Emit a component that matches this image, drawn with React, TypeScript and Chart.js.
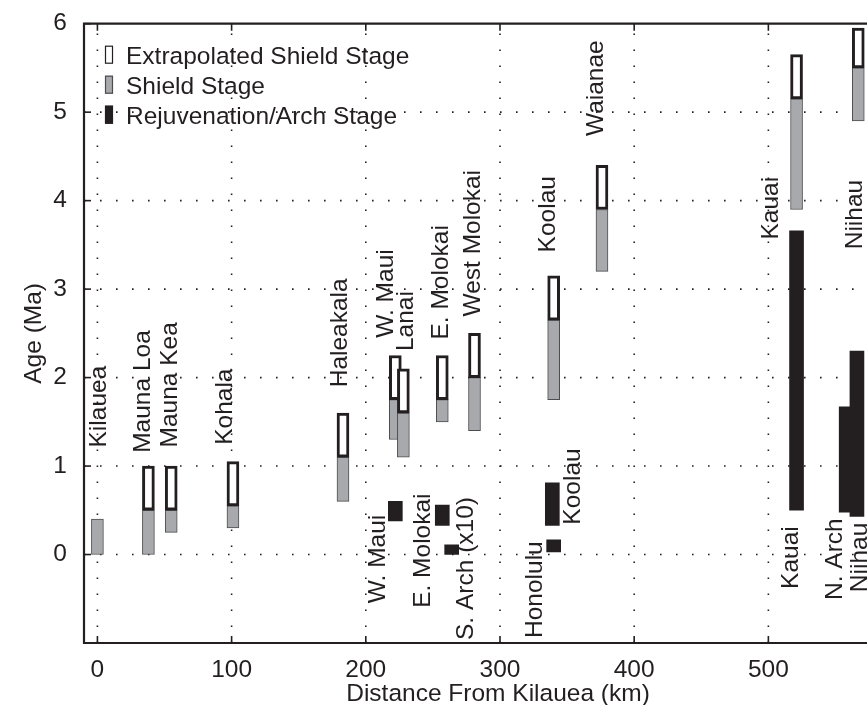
import React, { useEffect, useRef } from 'react';
import { Chart, registerables } from 'chart.js';

Chart.register(...registerables);

// ---------- data (km from Kilauea, ages in Ma) ----------
const shieldNames = ['Kilauea', 'Mauna Loa', 'Mauna Kea', 'Kohala', 'Haleakala', 'W. Maui', 'Lanai', 'E. Molokai', 'West Molokai', 'Koolau', 'Waianae', 'Kauai', 'Niihau'];
const shieldDistanceKm = [0, 38, 55, 101, 183, 222, 228, 257, 281, 340, 376, 521, 567];
const shieldStartMa = [0, 0, 0.25, 0.3, 0.6, 1.3, 1.1, 1.5, 1.4, 1.75, 3.2, 3.9, 4.9];
const shieldEndMa = [0.4, 0.5, 0.5, 0.55, 1.1, 1.75, 1.6, 1.75, 2.0, 2.65, 3.9, 5.15, 5.5];
const extrapolatedEndMa: (number | null)[] = [null, 1.0, 1.0, 1.05, 1.6, 2.25, 2.1, 2.25, 2.5, 3.15, 4.4, 5.65, 5.95];

const rejuvNames = ['W. Maui', 'E. Molokai', 'S. Arch (x10)', 'Koolau', 'Honolulu', 'Kauai', 'N. Arch', 'Niihau'];
const rejuvDistanceKm = [222, 257, 264, 339, 340, 521, 558, 566];
const rejuvStartMa = [0.38, 0.33, 0, 0.33, 0.03, 0.5, 0.48, 0.43];
const rejuvEndMa = [0.6, 0.56, 0.11, 0.81, 0.165, 3.66, 1.67, 2.3];

const xTickValues = [0, 100, 200, 300, 400, 500];
const yTickValues = [0, 1, 2, 3, 4, 5, 6];

// annotation labels: text, baseline distance (km), anchor age (Ma), side
const labelTexts = ['Kilauea', 'Mauna Loa', 'Mauna Kea', 'Kohala', 'Haleakala', 'W. Maui', 'Lanai', 'E. Molokai', 'West Molokai', 'Koolau', 'Waianae', 'Kauai', 'Niihau',
  'W. Maui', 'E. Molokai', 'S. Arch (x10)', 'Honolulu', 'Koolau', 'Kauai', 'N. Arch', 'Niihau'];
const labelDistanceKm = [6.5, 39.3, 59.2, 100.1, 185.8, 220.3, 235.2, 261.5, 285.2, 341.1, 377.1, 507.5, 569.6,
  214.4, 247.9, 280, 331.1, 359.7, 522.4, 554.7, 573.3];
const labelAgeMa = [1.21, 1.15, 1.21, 1.24, 1.89, 2.45, 2.3, 2.43, 2.69, 3.415, 4.73, 3.56, 3.45,
  0.45, 0.69, 0.65, 0.15, 1.2, 0.32, 0.41, 0.36];
const labelAbove = [true, true, true, true, true, true, true, true, true, true, true, true, true,
  false, false, false, false, false, false, false, false];

const xTitle = 'Distance From Kilauea (km)';
const yTitle = 'Age (Ma)';

// ---------- styles ----------
const INK = '#231f20';
const GRAY = '#a7a9ac';
const FAMILY = '"Liberation Sans", Arial, Helvetica, sans-serif';
const FS = 24.5;
const FONT = `${FS}px ${FAMILY}`;

const matlabPlugin = {
  id: 'matlabLook',
  beforeDatasetsDraw(chart: any) {
    const { ctx, chartArea: a, scales } = chart;
    const xs = scales.x, ys = scales.y;
    ctx.save();
    ctx.strokeStyle = INK;
    ctx.lineWidth = 1.6;
    ctx.setLineDash([1.6, 14.4]);
    xTickValues.forEach((v) => {
      const px = xs.getPixelForValue(v);
      ctx.beginPath();
      ctx.moveTo(px, a.bottom);
      ctx.lineTo(px, a.top);
      ctx.stroke();
    });
    yTickValues.forEach((v) => {
      if (v >= ys.max) return;
      const py = ys.getPixelForValue(v);
      ctx.beginPath();
      ctx.moveTo(a.left, py);
      ctx.lineTo(a.right, py);
      ctx.stroke();
    });
    ctx.restore();
  },
  afterDatasetsDraw(chart: any) {
    const { ctx, chartArea: a, scales } = chart;
    const xs = scales.x, ys = scales.y;
    ctx.save();
    // inward tick marks
    ctx.strokeStyle = INK;
    ctx.lineWidth = 1.6;
    const tl = 7;
    xTickValues.forEach((v) => {
      const px = xs.getPixelForValue(v);
      ctx.beginPath();
      ctx.moveTo(px, a.bottom);
      ctx.lineTo(px, a.bottom - tl);
      ctx.moveTo(px, a.top);
      ctx.lineTo(px, a.top + tl);
      ctx.stroke();
    });
    yTickValues.forEach((v) => {
      const py = ys.getPixelForValue(v);
      ctx.beginPath();
      ctx.moveTo(a.left, py);
      ctx.lineTo(a.left + tl, py);
      ctx.stroke();
    });
    // frame (left, bottom, top)
    ctx.lineWidth = 2.2;
    ctx.beginPath();
    ctx.moveTo(a.right + 2, a.top);
    ctx.lineTo(a.left, a.top);
    ctx.lineTo(a.left, a.bottom);
    ctx.lineTo(a.right + 2, a.bottom);
    ctx.stroke();

    // rotated annotation labels
    ctx.fillStyle = INK;
    ctx.font = FONT;
    ctx.textBaseline = 'alphabetic';
    labelTexts.forEach((t, i) => {
      const px = xs.getPixelForValue(labelDistanceKm[i]);
      const py = ys.getPixelForValue(labelAgeMa[i]);
      ctx.save();
      ctx.translate(px, py);
      ctx.rotate(-Math.PI / 2);
      ctx.textAlign = labelAbove[i] ? 'left' : 'right';
      ctx.fillText(t, 0, 0);
      ctx.restore();
    });

    // legend (no box)
    const ds = chart.data.datasets;
    ds.forEach((d: any, i: number) => {
      const base = a.top + 40 + i * 30;
      const iconX = a.left + 21;
      ctx.fillStyle = d.backgroundColor;
      ctx.fillRect(iconX, base - 18, 8, 18);
      ctx.strokeStyle = i === 2 ? INK : i === 1 ? '#4d4d4f' : INK;
      ctx.lineWidth = 1.2;
      ctx.setLineDash([]);
      ctx.strokeRect(iconX + 0.5, base - 17.5, 7, 17);
      ctx.fillStyle = INK;
      ctx.textAlign = 'left';
      ctx.fillText(d.label, a.left + 42, base);
    });

    // axis titles
    ctx.textAlign = 'center';
    ctx.fillText(xTitle, a.left + 414, chart.height - 4);
    ctx.save();
    ctx.translate(41, (a.top + a.bottom) / 2);
    ctx.rotate(-Math.PI / 2);
    ctx.fillText(yTitle, 0, 0);
    ctx.restore();
    ctx.restore();
  },
};

export default function App() {
  const canvasRef = useRef<HTMLCanvasElement | null>(null);

  useEffect(() => {
    const canvas = canvasRef.current;
    if (!canvas) return;

    const extrapData = shieldDistanceKm
      .map((d, i) => (extrapolatedEndMa[i] == null ? null : { x: d, y: [shieldEndMa[i], extrapolatedEndMa[i] as number], name: shieldNames[i] }))
      .filter((p) => p !== null);
    const shieldData = shieldDistanceKm.map((d, i) => ({ x: d, y: [shieldStartMa[i], shieldEndMa[i]], name: shieldNames[i] }));
    const rejuvData = rejuvDistanceKm.map((d, i) => ({ x: d, y: [rejuvStartMa[i], rejuvEndMa[i]], name: rejuvNames[i] }));

    const tickFont = { family: FAMILY, size: FS };

    const chart = new Chart(canvas, {
      type: 'bar',
      data: {
        datasets: [
          {
            label: 'Extrapolated Shield Stage',
            data: extrapData as any,
            backgroundColor: '#ffffff',
            borderColor: INK,
            borderWidth: 3,
            borderSkipped: false,
            barThickness: 12,
            grouped: false,
          } as any,
          {
            label: 'Shield Stage',
            data: shieldData as any,
            backgroundColor: GRAY,
            borderColor: '#4d4d4f',
            borderWidth: 1,
            borderSkipped: false,
            barThickness: 12,
            grouped: false,
          } as any,
          {
            label: 'Rejuvenation/Arch Stage',
            data: rejuvData as any,
            backgroundColor: INK,
            borderColor: INK,
            borderWidth: 0,
            borderSkipped: false,
            barThickness: 14,
            grouped: false,
          } as any,
        ],
      },
      options: {
        animation: false,
        responsive: false,
        events: [],
        layout: { padding: { top: 17, right: 0, bottom: 0, left: 0 } },
        plugins: { legend: { display: false }, tooltip: { enabled: false } },
        scales: {
          x: {
            type: 'linear',
            min: -10,
            max: 573.5,
            offset: false,
            grid: { display: false, offset: false },
            border: { display: false },
            ticks: { font: tickFont, color: INK, padding: 5, maxRotation: 0, autoSkip: false },
            afterBuildTicks: (s: any) => { s.ticks = xTickValues.map((v) => ({ value: v })); },
            afterFit: (s: any) => { s.height = 62; },
          },
          y: {
            type: 'linear',
            min: -1,
            max: 6,
            grid: { display: false },
            border: { display: false },
            ticks: { font: tickFont, color: INK, padding: 9, autoSkip: false },
            afterBuildTicks: (s: any) => { s.ticks = yTickValues.map((v) => ({ value: v })); },
            afterFit: (s: any) => { s.width = 84; },
          },
        },
      } as any,
      plugins: [matlabPlugin],
    });

    return () => chart.destroy();
  }, []);

  return (
    <div style={{ position: 'fixed', left: 0, top: 0, width: 867, height: 705, background: '#fff' }}>
      <canvas ref={canvasRef} width={867} height={705} style={{ display: 'block' }} />
    </div>
  );
}
